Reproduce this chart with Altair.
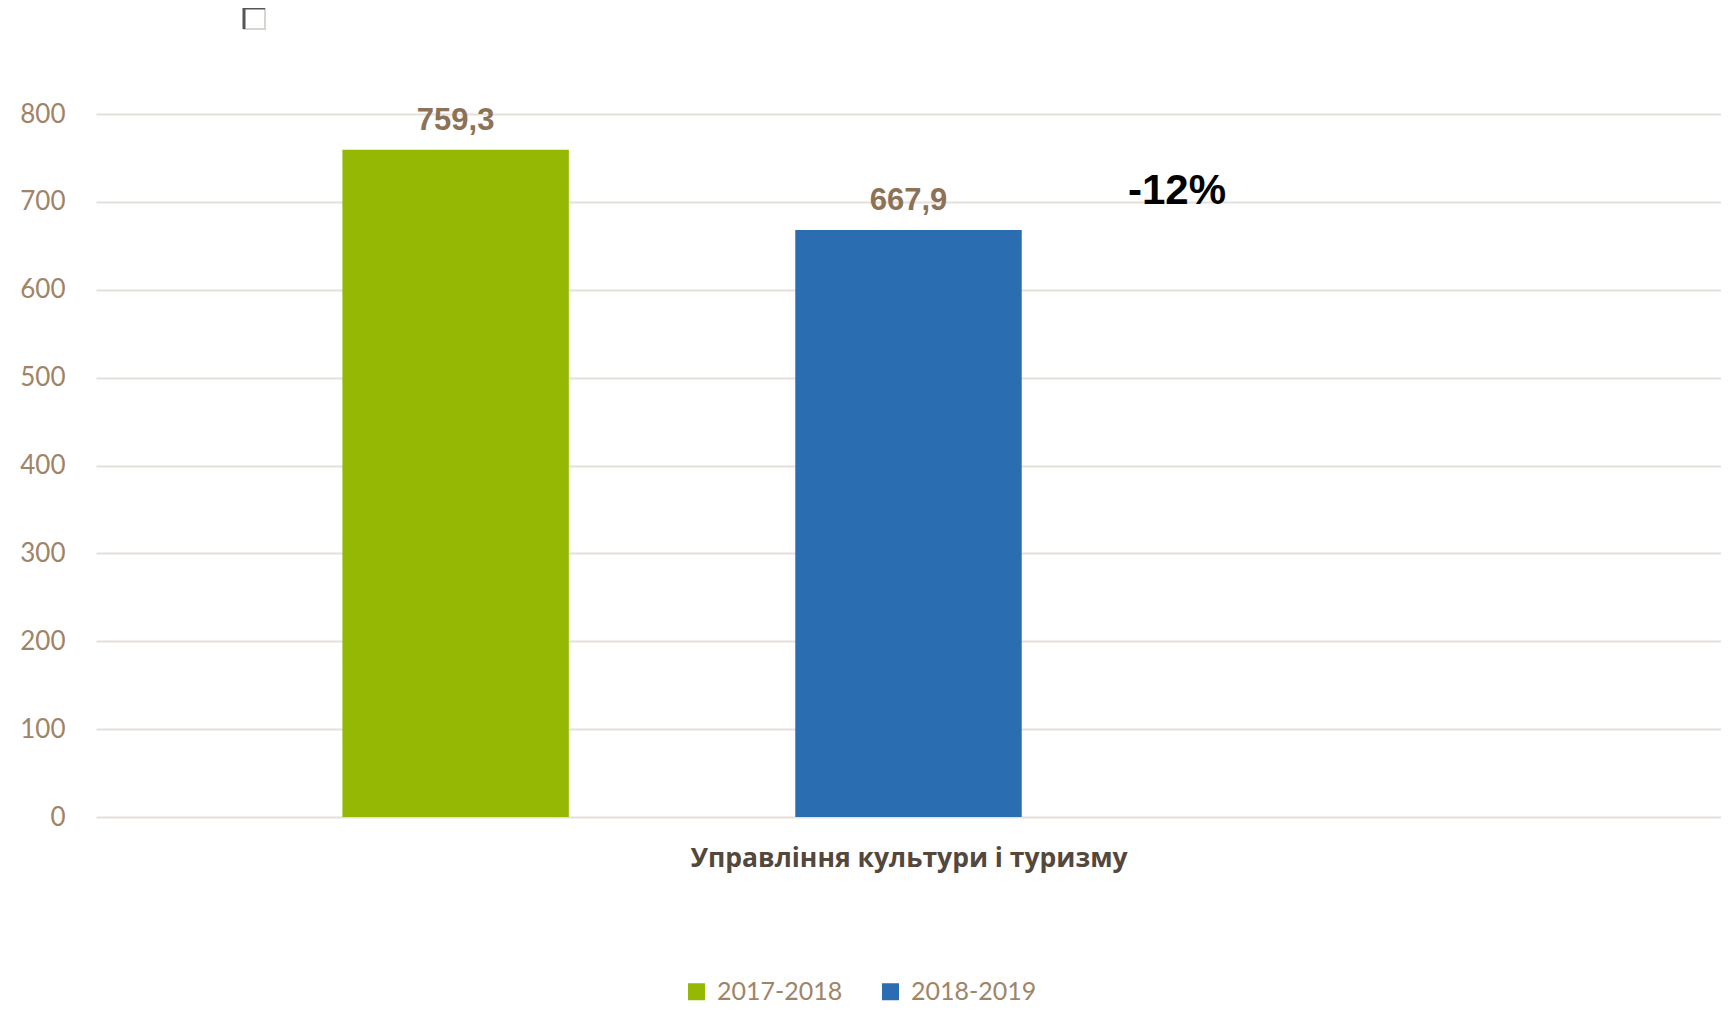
import altair as alt
import pandas as pd

# ---- data ----
category = "Управління культури і туризму"
periods = ["2017-2018", "2018-2019"]
values = [759.3, 667.9]
value_labels = ["759,3", "667,9"]
change_label = "-12%"
y_ticks = [0, 100, 200, 300, 400, 500, 600, 700, 800]
colors = ["#95B804", "#2A6DB1"]

df = pd.DataFrame({"period": periods, "value": values, "label": value_labels})

brown = "#A08467"
label_brown = "#8C7256"

# third (empty) slot reproduces the cluster spacing of the original
x_domain = periods + [" "]

x_enc = alt.X(
    "period:N",
    scale=alt.Scale(domain=x_domain, paddingInner=0.5, paddingOuter=0.544),
    axis=alt.Axis(
        labels=False, ticks=False, domain=False, grid=False,
        title=category, titleFont="Open Sans", titleFontWeight="bold",
        titleFontSize=26.5, titleColor="#54473C", titlePadding=28,
    ),
)
y_enc = alt.Y(
    "value:Q",
    scale=alt.Scale(domain=[0, 800], nice=False),
    axis=alt.Axis(
        values=y_ticks, title=None, domain=False, ticks=False,
        grid=True, gridColor="#E5DFD9", gridWidth=2,
        labelFont="Lato", labelFontSize=26, labelColor=brown, labelPadding=31,
    ),
)

bars = alt.Chart(df).mark_bar().encode(
    x=x_enc,
    y=y_enc,
    color=alt.Color(
        "period:N",
        scale=alt.Scale(domain=periods, range=colors),
        legend=alt.Legend(
            title=None, orient="none", direction="horizontal",
            legendX=588, legendY=865,
            symbolType="square", symbolSize=289, symbolStrokeWidth=0,
            labelFont="Lato", labelFontSize=25, labelColor=brown,
            labelOffset=8, columnPadding=35,
        ),
    ),
)

texts = alt.Chart(df).mark_text(
    dy=-13, baseline="bottom", font="Liberation Sans", fontWeight="bold",
    fontSize=31, color=label_brown,
).encode(x=alt.X("period:N"), y=alt.Y("value:Q"), text="label:N")

change = alt.Chart(pd.DataFrame({"t": [change_label]})).mark_text(
    font="Liberation Sans", fontWeight="bold", fontSize=42, color="#000000",
    baseline="alphabetic", align="center",
).encode(x=alt.value(1081), y=alt.value(90), text="t:N")

box = alt.Chart(pd.DataFrame({"a": [0]})).mark_rect(
    fill="#FFFFFF", stroke="#D6D6CE", strokeWidth=2, clip=False
).encode(x=alt.value(148), x2=alt.value(169), y=alt.value(-106), y2=alt.value(-85))
box_top = alt.Chart(pd.DataFrame({"a": [0]})).mark_rule(
    color="#555555", strokeWidth=3, clip=False
).encode(x=alt.value(148), x2=alt.value(169), y=alt.value(-106))
box_left = alt.Chart(pd.DataFrame({"a": [0]})).mark_rule(
    color="#555555", strokeWidth=3, clip=False
).encode(x=alt.value(148), y=alt.value(-106), y2=alt.value(-85))

chart = alt.layer(bars, texts, change, box, box_top, box_left).properties(
    width=1625, height=703,
    padding={"left": 88, "top": 106, "right": 0, "bottom": 192},
    autosize=alt.AutoSizeParams(type="none"),
).configure_view(stroke=None)

chart.save("out.html", embed_options={"renderer": "svg", "actions": False})
